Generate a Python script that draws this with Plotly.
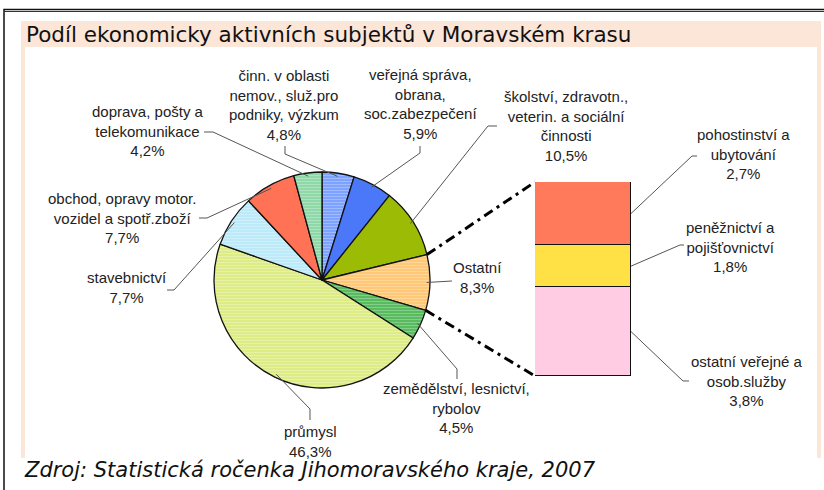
import math
import plotly.graph_objects as go

W, H = 824, 490

# ---------------- data ----------------
pie_names = [
    "činn. v oblasti<br>nemov., služ.pro<br>podniky, výzkum",
    "veřejná správa,<br>obrana,<br>soc.zabezpečení",
    "školství, zdravotn.,<br>veterin. a sociální<br>činnosti",
    "Ostatní",
    "zemědělství, lesnictví,<br>rybolov",
    "průmysl",
    "stavebnictví",
    "obchod, opravy motor.<br>vozidel a spotř.zboží",
    "doprava, pošty a<br>telekomunikace",
]
pie_values = [4.8, 5.9, 10.5, 8.3, 4.5, 46.3, 7.7, 7.7, 4.2]

bar_names = [
    "pohostinství a<br>ubytování",
    "peněžnictví a<br>pojišťovnictví",
    "ostatní veřejné a<br>osob.služby",
]
bar_values = [2.7, 1.8, 3.8]

title_text = "Podíl ekonomicky aktivních subjektů v Moravském krasu"
source_text = "Zdroj: Statistická ročenka Jihomoravského kraje, 2007"

# ---------------- styles / layout ----------------
pie_colors = ["#7DA2FF", "#4A78F8", "#9BBB05", "#FFC877", "#58BB5E",
              "#DEEC86", "#BDEAF8", "#FF7255", "#8FD8A8"]
pie_patterns = ["-", "", "", "-", "-", "-", "-", "", "-"]
bar_colors = ["#FF7A5A", "#FFE045", "#FFCCE4"]

CX, CY, R = 322, 280, 108            # pie centre / radius in px
BAR_L, BAR_R, BAR_T, BAR_B = 535, 631, 182, 376

pie_label_pos = [(284, 105), (420, 104), (566, 125.5), (478, 277.5), (456, 408),
                 (310, 441.5), (127, 287.5), (122.5, 218), (148, 131)]
pie_leader_elbows = [
    [(285, 146), (285, 154)],
    [(420, 146), (420, 153)],
    [(497, 126), (488, 126)],
    [(452, 281)],
    [(457, 379), (457, 369)],
    [(310, 420), (310, 409)],
    [(167, 290), (174, 290)],
    [(199, 218), (207, 218)],
    [(204, 132), (213, 132)],
]
bar_label_pos = [(743, 154), (730, 247), (747, 381)]
bar_leader_elbows = [[(697, 156), (692, 156)], [(684, 245), (680, 245)], [(689, 381), (683, 381)]]

LABEL_FONT = dict(family="Liberation Sans, Arial", size=15, color="#222222")


def fmt(v):
    return f"{v:.1f}".replace(".", ",") + "%"


def P(x, y):
    return x / W, 1 - y / H


def slice_point(i, frac_r=1.0, edge=None):
    total = sum(pie_values)
    start = sum(pie_values[:i]) / total
    if edge is None:
        f = start + pie_values[i] / total / 2
    else:
        f = start if edge == 0 else start + pie_values[i] / total
    a = 2 * math.pi * f
    return CX + R * frac_r * math.sin(a), CY - R * frac_r * math.cos(a)


def path_from(points):
    s = ""
    for k, (x, y) in enumerate(points):
        px_, py_ = P(x, y)
        s += ("M" if k == 0 else " L") + f" {px_:.5f},{py_:.5f}"
    return s


fig = go.Figure()

fig.add_trace(go.Pie(
    values=pie_values,
    labels=[n.replace("<br>", " ") for n in pie_names],
    sort=False, direction="clockwise", rotation=0,
    marker=dict(colors=pie_colors, line=dict(color="#111111", width=1.3),
                pattern=dict(shape=pie_patterns, fillmode="overlay", fgcolor="white",
                             fgopacity=0.3, size=3, solidity=0.3)),
    textinfo="none", hoverinfo="label+percent", showlegend=False,
    domain=dict(x=[(CX - R) / W, (CX + R) / W], y=[1 - (CY + R) / H, 1 - (CY - R) / H]),
))

for name, val, col in reversed(list(zip(bar_names, bar_values, bar_colors))):
    fig.add_trace(go.Bar(
        x=[0], y=[val], width=1, name=name.replace("<br>", " "),
        marker=dict(color=col, line=dict(color="#111111", width=1)),
        showlegend=False, hoverinfo="name+y",
    ))

shapes = []
# outer frame (double line on top)
shapes.append(dict(type="rect", xref="paper", yref="paper", x0=4 / W, x1=840 / W,
                   y0=1 - 500 / H, y1=1 - 9.5 / H, line=dict(color="#111111", width=1.5), layer="below"))
shapes.append(dict(type="line", xref="paper", yref="paper", x0=4 / W, x1=840 / W,
                   y0=1 - 11.5 / H, y1=1 - 11.5 / H, line=dict(color="#333333", width=1), layer="below"))
# peach title band and side strips
peach = "#FCE6D8"
for (x0, y0, x1, y1) in [(21, 21, 821, 47), (21, 47, 25, 458), (817, 47, 821, 458)]:
    shapes.append(dict(type="rect", xref="paper", yref="paper", x0=x0 / W, x1=x1 / W,
                       y0=1 - y1 / H, y1=1 - y0 / H, fillcolor=peach, line=dict(width=0), layer="below"))

# dash-dot connectors from "Ostatní" slice to bar corners
oi = pie_names.index("Ostatní")
for edge, corner_y in [(0, BAR_T), (1, BAR_B)]:
    sx, sy = slice_point(oi, 1.0, edge)
    shapes.append(dict(type="path", xref="paper", yref="paper",
                       path=path_from([(sx, sy), (BAR_L, corner_y)]),
                       line=dict(color="#000000", width=3, dash="10px,5px,3px,5px")))

annotations = []
# pie labels + leaders
for i, (name, val) in enumerate(zip(pie_names, pie_values)):
    lx, ly = pie_label_pos[i]
    x, y = P(lx, ly)
    annotations.append(dict(x=x, y=y, xref="paper", yref="paper", text=name + "<br>" + fmt(val),
                            showarrow=False, xanchor="center", yanchor="middle", align="center",
                            font=LABEL_FONT))
    pts = pie_leader_elbows[i] + [slice_point(i, 0.97)]
    shapes.append(dict(type="path", xref="paper", yref="paper", path=path_from(pts),
                       line=dict(color="#555555", width=1)))

# bar labels + leaders
total_bar = sum(bar_values)
cum = 0.0
for i, (name, val) in enumerate(zip(bar_names, bar_values)):
    mid = cum + val / 2
    cum += val
    my = BAR_T + (mid / total_bar) * (BAR_B - BAR_T)
    lx, ly = bar_label_pos[i]
    x, y = P(lx, ly)
    annotations.append(dict(x=x, y=y, xref="paper", yref="paper", text=name + "<br>" + fmt(val),
                            showarrow=False, xanchor="center", yanchor="middle", align="center",
                            font=LABEL_FONT))
    pts = bar_leader_elbows[i] + [(BAR_R, my)]
    shapes.append(dict(type="path", xref="paper", yref="paper", path=path_from(pts),
                       line=dict(color="#555555", width=1)))

# title and source
tx, ty = P(24, 35)
annotations.append(dict(x=tx, y=ty, xref="paper", yref="paper", text=title_text, showarrow=False,
                        xanchor="left", yanchor="middle",
                        font=dict(family="DejaVu Sans, Verdana", size=21.5, color="#111111")))
sx_, sy_ = P(22, 470)
annotations.append(dict(x=sx_, y=sy_, xref="paper", yref="paper", text="<i>" + source_text + "</i>",
                        showarrow=False, xanchor="left", yanchor="middle",
                        font=dict(family="DejaVu Sans, Verdana", size=21, color="#111111")))

fig.update_layout(
    width=W, height=H, margin=dict(l=0, r=0, t=0, b=0),
    paper_bgcolor="white", plot_bgcolor="rgba(0,0,0,0)",
    barmode="stack", bargap=0,
    xaxis=dict(domain=[BAR_L / W, BAR_R / W], range=[-0.5, 0.5], visible=False, fixedrange=True),
    yaxis=dict(domain=[1 - BAR_B / H, 1 - BAR_T / H], range=[0, total_bar], visible=False, fixedrange=True),
    shapes=shapes, annotations=annotations, showlegend=False,
)

fig.write_html("out.html", config={"displayModeBar": False},
               post_script="document.body.style.margin='0';document.body.style.overflow='hidden';")
